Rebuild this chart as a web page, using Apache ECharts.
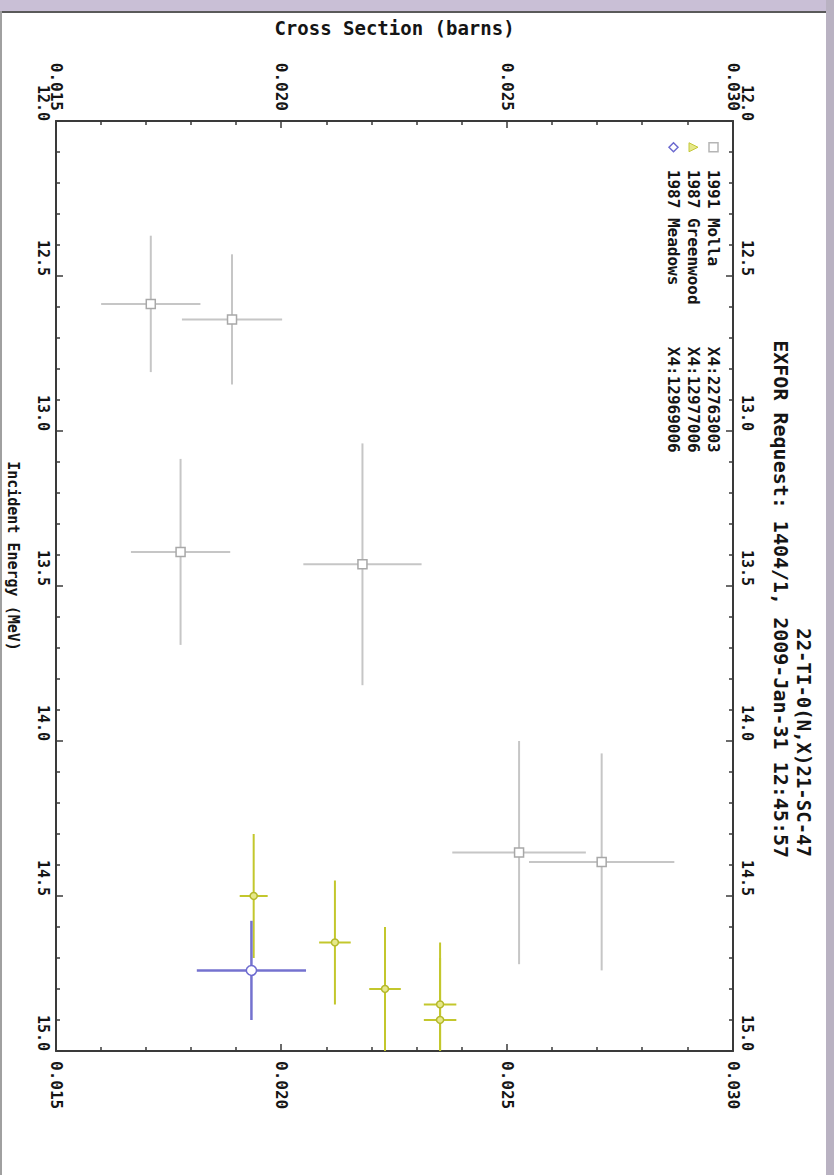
<!DOCTYPE html>
<html>
<head>
<meta charset="utf-8">
<title>22-TI-0(N,X)21-SC-47</title>
<script src="https://cdn.jsdelivr.net/npm/echarts@6/dist/echarts.min.js"></script>
<style>
    html, body { margin: 0; padding: 0; background: #fff; }
    #page { position: relative; width: 834px; height: 1175px; overflow: hidden; }
    /* the plot is built lying down and then turned a quarter clockwise, like the scan */
    #main { position: absolute; left: 0; top: 0; width: 1175px; height: 834px;
            transform-origin: 0 0; transform: translateX(834px) rotate(90deg); }
    .edge { position: absolute; }
</style>
</head>
<body>
<div id="page">
    <div id="main"></div>
    <div class="edge" style="left:0;top:0;width:834px;height:11px;background:#c9bfd6;"></div>
    <div class="edge" style="left:0;top:11px;width:826px;height:2px;background:#5a5a5a;"></div>
    <div class="edge" style="left:0;top:11px;width:2px;height:1164px;background:#a0a0a0;"></div>
    <div class="edge" style="left:826px;top:0;width:8px;height:1175px;background:#b9b2c2;"></div>
</div>
<script>
    // energy axis (MeV) and cross-section axis (barns)
    var eMin = 12.0, eMax = 15.0, eStep = 0.5;
    var xsMin = 0.015, xsMax = 0.030, xsStep = 0.005;

    // 1991 Molla  X4:22763003
    var mollaE     = [12.59, 12.64, 13.39, 13.43, 14.36, 14.39];
    var mollaEErr  = [0.22, 0.21, 0.30, 0.39, 0.36, 0.35];
    var mollaXs    = [0.01710, 0.01890, 0.01776, 0.02179, 0.02526, 0.02709];
    var mollaXsErr = [0.00110, 0.00111, 0.00110, 0.00131, 0.00148, 0.00161];

    // 1987 Greenwood  X4:12977006
    var greenE     = [14.50, 14.65, 14.80, 14.85, 14.90];
    var greenEErr  = [0.20, 0.20, 0.20, 0.20, 0.20];
    var greenXs    = [0.01938, 0.02118, 0.02229, 0.02351, 0.02351];
    var greenXsErr = [0.00031, 0.00035, 0.00035, 0.00036, 0.00036];

    // 1987 Meadows  X4:12969006
    var meadE     = [14.74];
    var meadEErr  = [0.16];
    var meadXs    = [0.01933];
    var meadXsErr = [0.00121];

    var names = ['1991 Molla', '1987 Greenwood', '1987 Meadows'];
    var codes = ['X4:22763003', 'X4:12977006', 'X4:12969006'];

    var mono = 'DejaVu Sans Mono';

    function points(e, xs) {
        return e.map(function (v, i) { return [v, xs[i]]; });
    }
    function bars(e, de, xs, dxs) {
        return e.map(function (v, i) { return [v, xs[i], de[i], dxs[i]]; });
    }
    function errorBars(color, width) {
        return function (params, api) {
            var e = api.value(0), xs = api.value(1), de = api.value(2), dx = api.value(3);
            var a = api.coord([Math.max(e - de, eMin), xs]);
            var b = api.coord([Math.min(e + de, eMax), xs]);
            var c = api.coord([e, Math.max(xs - dx, xsMin)]);
            var d = api.coord([e, Math.min(xs + dx, xsMax)]);
            var st = { stroke: color, lineWidth: width };
            return {
                type: 'group',
                children: [
                    { type: 'line', shape: { x1: a[0], y1: a[1], x2: b[0], y2: b[1] }, style: st },
                    { type: 'line', shape: { x1: c[0], y1: c[1], x2: d[0], y2: d[1] }, style: st }
                ]
            };
        };
    }

    var labelStyle = { fontFamily: mono, fontWeight: 'bold', color: '#151515' };
    var lineStyle = { color: '#3a3a3a', width: 2 };

    function energyAxis(pos, withName) {
        return {
            type: 'value', position: pos, min: eMin, max: eMax, interval: eStep,
            name: withName ? 'Incident Energy (MeV)' : '', nameLocation: 'middle', nameGap: 36,
            nameTextStyle: { fontFamily: mono, fontWeight: 'bold', fontSize: 15, color: '#151515', padding: [0, 60, 0, 0] },
            axisLine: { show: true, onZero: false, lineStyle: lineStyle },
            axisTick: { show: true, inside: true, length: 7, lineStyle: { color: '#3a3a3a', width: 1.5 } },
            minorTick: { show: true, splitNumber: 5, length: 4, lineStyle: { color: '#3a3a3a', width: 1.5 } },
            axisLabel: Object.assign({ align: 'right', margin: 6, fontSize: 15, showMinLabel: true, showMaxLabel: true,
                formatter: function (v) { return v.toFixed(1); } }, labelStyle),
            splitLine: { show: false }
        };
    }
    function xsAxis(pos, withName) {
        return {
            type: 'value', position: pos, min: xsMin, max: xsMax, interval: xsStep,
            name: withName ? 'Cross Section (barns)' : '', nameLocation: 'middle', nameGap: 84,
            nameTextStyle: { fontFamily: mono, fontWeight: 'bold', fontSize: 19, color: '#151515' },
            axisLine: { show: true, onZero: false, lineStyle: lineStyle },
            axisTick: { show: true, inside: true, length: 7, lineStyle: { color: '#3a3a3a', width: 1.5 } },
            minorTick: { show: true, splitNumber: 5, length: 4, lineStyle: { color: '#3a3a3a', width: 1.5 } },
            axisLabel: Object.assign({ margin: 10, fontSize: 16, showMinLabel: true, showMaxLabel: true,
                formatter: function (v) { return v.toFixed(3); } }, labelStyle),
            splitLine: { show: false }
        };
    }

    var myChart = echarts.init(document.getElementById('main'), null, { renderer: 'svg' });
    var option = {
        backgroundColor: '#fff',
        animation: false,
        title: [
            { text: '22-TI-0(N,X)21-SC-47', right: 318, top: 21, padding: 0,
              textStyle: { fontFamily: mono, fontWeight: 'bold', fontSize: 19, color: '#151515' } },
            { text: 'EXFOR Request: 1404/1, 2009-Jan-31 12:45:57', right: 317, top: 43, padding: 0,
              textStyle: { fontFamily: mono, fontWeight: 'bold', fontSize: 20, color: '#151515' } }
        ],
        grid: { left: 121, right: 124, top: 101, bottom: 53 },
        legend: {
            orient: 'vertical', left: 142, top: 112, padding: 0,
            itemWidth: 9, itemHeight: 9, itemGap: 3, selectedMode: false,
            data: [
                { name: names[0], icon: 'rect', itemStyle: { color: '#fff', borderColor: '#b5b5b5', borderWidth: 1.5 } },
                { name: names[1], icon: 'triangle', itemStyle: { color: '#e6e88a', borderColor: '#c4c83a', borderWidth: 1 } },
                { name: names[2], icon: 'diamond', itemStyle: { color: '#fff', borderColor: '#6d6bd0', borderWidth: 1.5 } }
            ],
            formatter: function (name) {
                return '{a|' + name + '}{b|' + codes[names.indexOf(name)] + '}';
            },
            textStyle: {
                fontFamily: mono, fontWeight: 'bold', fontSize: 16, color: '#151515', lineHeight: 17,
                rich: {
                    a: { width: 177, padding: [0, 0, 0, 13], fontFamily: mono, fontWeight: 'bold', fontSize: 16, color: '#151515' },
                    b: { fontFamily: mono, fontWeight: 'bold', fontSize: 16, color: '#151515' }
                }
            }
        },
        xAxis: [energyAxis('bottom', true), energyAxis('top', false)],
        yAxis: [xsAxis('left', true), xsAxis('right', false)],
        series: [
            { name: 'Molla bars', type: 'custom', renderItem: errorBars('#c6c6c6', 2),
              data: bars(mollaE, mollaEErr, mollaXs, mollaXsErr), encode: { x: 0, y: 1 }, z: 2 },
            { name: 'Greenwood bars', type: 'custom', renderItem: errorBars('#c3c72c', 2),
              data: bars(greenE, greenEErr, greenXs, greenXsErr), encode: { x: 0, y: 1 }, z: 2 },
            { name: 'Meadows bars', type: 'custom', renderItem: errorBars('#7472cf', 2.5),
              data: bars(meadE, meadEErr, meadXs, meadXsErr), encode: { x: 0, y: 1 }, z: 3 },
            { name: names[0], type: 'scatter', symbol: 'rect', symbolSize: 9, z: 4,
              itemStyle: { color: '#fff', borderColor: '#a8a8a8', borderWidth: 1.5, opacity: 1 },
              data: points(mollaE, mollaXs) },
            { name: names[1], type: 'scatter', symbol: 'circle', symbolSize: 7, z: 4,
              itemStyle: { color: '#e6e88a', borderColor: '#b4b82a', borderWidth: 1.5, opacity: 1 },
              data: points(greenE, greenXs) },
            { name: names[2], type: 'scatter', symbol: 'circle', symbolSize: 10, z: 5,
              itemStyle: { color: '#fff', borderColor: '#6d6bd0', borderWidth: 1.5, opacity: 1 },
              data: points(meadE, meadXs) }
        ]
    };
    myChart.setOption(option);
</script>
</body>
</html>
